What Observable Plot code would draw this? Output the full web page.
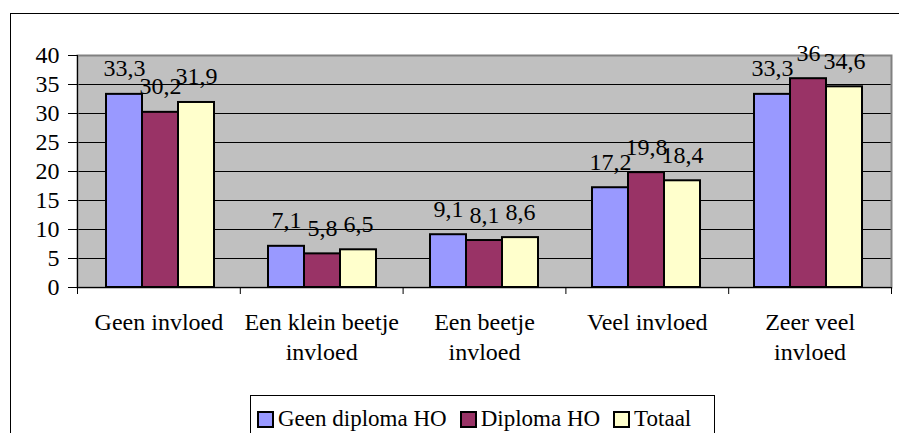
<!DOCTYPE html>
<html>
<head>
<meta charset="utf-8">
<script src="https://cdn.jsdelivr.net/npm/d3@7"></script>
<script src="https://cdn.jsdelivr.net/npm/@observablehq/plot@0.6"></script>
<style>
  html, body { margin: 0; padding: 0; background: white; }
  #wrap { position: relative; width: 899px; height: 433px; overflow: hidden; background: white; font-family: "Liberation Serif", "Times New Roman", serif; }
  .layer { position: absolute; left: 0; top: 0; }
  #frame { position: absolute; left: 10px; top: 13px; width: 920px; height: 460px; border: 1px solid #000; pointer-events: none; }
  #legend { position: absolute; left: 250px; top: 395px; width: 465px; height: 60px; border: 1px solid #000; background: white;
            display: flex; align-items: flex-start; padding: 9px 0 0 6px; box-sizing: border-box; }
  .item { display: flex; align-items: center; height: 28px; margin-right: 13px; }
  .swatch { width: 13px; height: 13px; border: 2px solid #000; margin-right: 4px; }
  .item span { font-size: 23px; line-height: 28px; color: #000; white-space: nowrap; }
</style>
</head>
<body>
<div id="wrap">
  <div id="layerA" class="layer"></div>
  <div id="layerB" class="layer"></div>
  <div id="frame"></div>
  <div id="legend"></div>
</div>
<script>
// ---- Data ----
const categories = ["Geen invloed", "Een klein beetje invloed", "Een beetje invloed", "Veel invloed", "Zeer veel invloed"];
const categoryLabels = ["Geen invloed", "Een klein beetje\ninvloed", "Een beetje\ninvloed", "Veel invloed", "Zeer veel\ninvloed"];
const series = ["Geen diploma HO", "Diploma HO", "Totaal"];
const geenDiplomaHO = [33.3, 7.1, 9.1, 17.2, 33.3];
const diplomaHO = [30.2, 5.8, 8.1, 19.8, 36];
const totaal = [31.9, 6.5, 8.6, 18.4, 34.6];
const seriesColors = ["#9999FF", "#993366", "#FFFFCC"];
const yTicks = [0, 5, 10, 15, 20, 25, 30, 35, 40];
const gridTicks = [5, 10, 15, 20, 25, 30, 35];

const seriesValues = [geenDiplomaHO, diplomaHO, totaal];
const data = [];
categories.forEach((c, i) => {
  series.forEach((s, j) => data.push({cat: c, series: s, value: seriesValues[j][i]}));
});
const boundaries = d3.range(categories.length + 1);

const W = 899, H = 433;
const margins = {marginLeft: 77, marginRight: 8, marginTop: 55, marginBottom: 146};
const baseStyle = {fontFamily: "'Liberation Serif', 'Times New Roman', serif", fontSize: "24px", background: "transparent", color: "black", overflow: "visible"};

// ---- Layer A: background, grid, axes ----
const plotA = Plot.plot({
  width: W, height: H, ...margins,
  style: baseStyle,
  x: {domain: [0, categories.length], axis: null},
  y: {domain: [0, 40], axis: null},
  marks: [
    Plot.frame({fill: "#C0C0C0", stroke: null}),
    Plot.ruleY(gridTicks, {stroke: "#000", strokeWidth: 1}),
    Plot.frame({stroke: "#808080", strokeWidth: 2}),
    Plot.ruleX([0], {stroke: "#000", strokeWidth: 1}),
    Plot.ruleY([0], {stroke: "#000", strokeWidth: 1}),
    Plot.axisY({ticks: yTicks, tickSize: 9, tickPadding: 9, fontSize: 24, label: null, stroke: "#000"}),
    Plot.axisX({ticks: boundaries, tickSize: 7, tickFormat: () => "", label: null, stroke: "#000"}),
    Plot.text(categoryLabels, {
      x: (d, i) => i + 0.5, text: d => d,
      frameAnchor: "bottom", lineAnchor: "top", dy: 21,
      lineHeight: 1.25, fontSize: 24, fill: "#000"
    })
  ]
});
document.getElementById("layerA").appendChild(plotA);

// ---- Layer B: grouped bars ----
const fmt = v => String(v).replace(".", ",");
const plotB = Plot.plot({
  width: W, height: H, ...margins,
  style: baseStyle,
  fx: {domain: categories, padding: 0, axis: null, label: null},
  x: {domain: series, paddingInner: 0, paddingOuter: 0.75, axis: null},
  y: {domain: [0, 40], axis: null},
  color: {domain: series, range: seriesColors},
  marks: [
    Plot.barY(data, {fx: "cat", x: "series", y: "value", fill: "series", stroke: "#000", strokeWidth: 2}),
    Plot.text(data, {fx: "cat", x: "series", y: "value", text: d => fmt(d.value),
      lineAnchor: "bottom", dy: -18, fontSize: 24, fill: "#000"})
  ]
});
document.getElementById("layerB").appendChild(plotB);

// ---- Legend ----
const legend = document.getElementById("legend");
series.forEach((s, j) => {
  const item = document.createElement("div");
  item.className = "item";
  const sw = document.createElement("div");
  sw.className = "swatch";
  sw.style.background = seriesColors[j];
  const label = document.createElement("span");
  label.textContent = s;
  item.appendChild(sw);
  item.appendChild(label);
  legend.appendChild(item);
});
</script>
</body>
</html>
